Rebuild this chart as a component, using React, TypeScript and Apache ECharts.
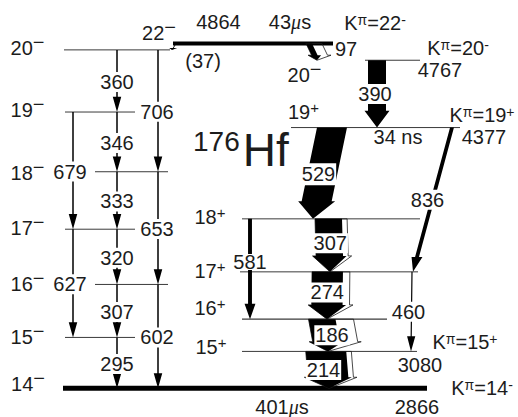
import React, { useEffect, useRef } from "react";
import * as echarts from "echarts";

// ---------------- DATA ----------------
// Levels of 176Hf: energy (keV), spin, parity
const levelEnergies = [2866, 3161, 3468, 3788, 4121, 4467, 4827, 4864, 4767, 4377, 3848, 3541, 3267, 3080];
const levelSpins = ["14", "15", "16", "17", "18", "19", "20", "22", "20", "19", "18", "17", "16", "15"];
const levelParities = ["−", "−", "−", "−", "−", "−", "−", "−", "−", "+", "+", "+", "+", "+"];

// Band heads (K^pi) and their levels
const bandHeadLevels = [7, 8, 9, 13, 0];
const bandHeadK = ["22", "20", "19", "15", "14"];
const bandHeadParity = ["-", "-", "+", "+", "-"];

// Levels whose energy is printed
const energyLabelLevels = [7, 8, 9, 13, 0];

// Isomers: half-lives
const isomerLevels = [7, 9, 0];
const isomerValues = ["43", "34", "401"];
const isomerUnits = ["μs", "ns", "μs"];

// Gamma transitions
const transitionLabels = ["360", "346", "333", "320", "307", "295", "706", "653", "602", "679", "627", "(37)", "97", "390", "529", "836", "307", "274", "186", "214", "581", "460"];
const transitionFrom = [6, 5, 4, 3, 2, 1, 6, 4, 2, 5, 3, 7, 7, 8, 9, 9, 10, 11, 12, 13, 10, 11];
const transitionTo = [5, 4, 3, 2, 1, 0, 4, 2, 0, 3, 1, 6, 8, 9, 10, 11, 11, 12, 13, 0, 12, 13];
// relative intensities (gamma, conversion electrons)
const gammaIntensity = [5, 5, 5, 5, 5, 5, 5, 5, 5, 5, 5, 3, 20, 60, 100, 13, 90, 103, 90, 135, 13, 4];
const conversionIntensity = [0, 0, 0, 0, 0, 0, 0, 0, 0, 0, 0, 0, 33, 0, 0, 0, 17, 23, 60, 17, 0, 0];

// ---------------- LAYOUT / STYLE ----------------
const FONT = "'Liberation Sans', Arial, Helvetica, sans-serif";
const INK = "#1c1c1c";
const PX_PER_INTENSITY = 0.3;
const DIGIT_W = 11.12; // 20px Liberation Sans digit advance

const levelX = [[63, 427], [65, 135], [95, 168], [65, 135], [95, 168], [65, 135], [64, 170], [173, 333], [365, 420], [291, 460], [242, 420], [240, 418], [242, 387], [242, 417]];
const levelLineWidth = [5, 1, 1, 1, 1, 1, 1, 4, 1, 1, 1, 1, 1.2, 1];
const spinLabelLayout = [[28, -4], [27.5, 0], [27.5, 0], [27.5, -1.5], [27.5, 1], [27.5, -2], [27.5, -2], [159, -10.5], [304.5, 15], [303.5, -15.5], [210, -2], [210, -1], [210, -11], [211, -4]];
const energyLabelLayout: Record<number, number[]> = { 7: [218.5, -21], 8: [440, 10], 9: [484, 9.5], 13: [420, 13.5], 0: [417, 19] };
const bandLabelLayout: Record<number, number[]> = { 7: [375, -20.5], 8: [458, -12], 9: [482, -13], 13: [465, -9], 0: [482, 0] };
const isomerLabelLayout: Record<number, number[]> = { 7: [290, -21], 9: [398, 9.5], 0: [282, 19] };
// [xTop, xBottom, labelDx, labelDy, labelBackground, labelBoxHeight]
const transitionLayout = [
  [117, 117, 0, 1, 1, 20], [117, 117, 0, 1, 1, 20], [117, 117, 0, 1, 1, 20], [117, 117, 0, 1, 1, 20], [117, 117, 0, 1, 1, 20], [117, 117, 0, 1, 1, 20],
  [158, 158, -1, 1, 1, 20], [158, 158, -1, 1, 1, 20], [158, 158, -1, 1, 1, 20],
  [73, 73, -3, 1, 1, 20], [73, 73, -3, 1, 1, 20],
  [176, 172, 29, 14, 0, 20], [309, 317, 33, -3, 0, 20],
  [377, 377, -2, 0, 1, 20], [332, 313, -4, 1, 1, 22], [452, 413, -5, 0, 1, 20],
  [328.5, 330, 1, -2, 1, 20], [327.5, 327, 0, -3, 1, 20], [322, 328, 7, 0, 1, 20], [326, 329, -4, 0, 1, 20],
  [250, 250, 0, -7, 1, 16], [412, 411, -3, 0, 1, 20],
];

const baseRich = {
  n: { fontSize: 20, lineHeight: 20, fontFamily: FONT, fill: INK },
  k: { fontSize: 14, lineHeight: 11, verticalAlign: "top", fontFamily: FONT, fill: INK },
  u: { fontSize: 20, lineHeight: 20, fontStyle: "italic", fontFamily: "'Liberation Serif', serif", fill: INK },
};

function txt(x: number, y: number, text: string, extra: any = {}) {
  return {
    type: "text",
    x,
    y,
    style: {
      text,
      fontSize: 20,
      lineHeight: 20,
      fontFamily: FONT,
      fill: INK,
      align: "center",
      verticalAlign: "middle",
      textAlign: "center",
      textVerticalAlign: "middle",
      rich: baseRich,
      ...extra,
    },
  };
}

// spin label: digits + raised parity sign
function spinLabel(cx: number, cy: number, spin: string, parity: string) {
  const isPlus = parity === "+";
  const supSize = isPlus ? 15 : 20;
  const supW = isPlus ? 8.8 : 11.7;
  const digitsW = spin.length * DIGIT_W;
  const x0 = cx - (digitsW + supW) / 2;
  return {
    type: "group",
    children: [
      txt(x0, cy, spin, { align: "left", textAlign: "left" }),
      txt(x0 + digitsW, cy - (isPlus ? 4.5 : 6), parity, { align: "left", textAlign: "left", fontSize: supSize }),
    ],
  };
}

// arrow polygon with separate left/right half widths for shaft and head
function arrowPts(x1: number, y1: number, x2: number, y2: number, wl: number, wr: number, hwl: number, hwr: number, hl: number) {
  const dx = x2 - x1;
  const dy = y2 - y1;
  const len = Math.hypot(dx, dy);
  const t = (len - hl) / len;
  const xb = x1 + dx * t;
  const yb = y1 + dy * t;
  return [
    [x1 - wl, y1],
    [x1 + wr, y1],
    [xb + wr, yb],
    [xb + hwr, yb],
    [x2, y2],
    [xb - hwl, yb],
    [xb - wl, yb],
  ];
}

const option: any = {
  animation: false,
  backgroundColor: "#ffffff",
  title: {
    text: "{a|176}{b|Hf}",
    left: 193,
    top: 127,
    padding: 0,
    textStyle: {
      fontWeight: "normal",
      rich: {
        a: { fontSize: 28, lineHeight: 22, verticalAlign: "top", fontFamily: FONT, fontWeight: "normal", color: INK, padding: [0, 3, 0, 0] },
        b: { fontSize: 46, lineHeight: 46, fontFamily: FONT, fontWeight: "normal", color: INK },
      },
    },
  },
  grid: { left: 0, right: 0, top: 0, bottom: 0 },
  xAxis: { type: "value", min: 0, max: 518, show: false, splitLine: { show: false } },
  yAxis: { type: "value", min: 2700, max: 5116, show: false, splitLine: { show: false } },
  series: [
    // level lines
    {
      type: "custom",
      z: 1,
      silent: true,
      data: levelEnergies.map((e, i) => [levelX[i][0], e]),
      renderItem: (params: any, api: any) => {
        const i = params.dataIndex;
        const e = levelEnergies[i];
        const p1 = api.coord([levelX[i][0], e]);
        const p2 = api.coord([levelX[i][1], e]);
        const lw = levelLineWidth[i];
        return {
          type: "line",
          shape: { x1: p1[0], y1: p1[1], x2: p2[0], y2: p2[1] },
          style: { stroke: lw > 1.5 ? "#000" : "#3a3a3a", lineWidth: lw },
        };
      },
    },
    // transition arrows
    {
      type: "custom",
      z: 2,
      silent: true,
      data: transitionFrom.map((f, i) => [transitionLayout[i][0], levelEnergies[f]]),
      renderItem: (params: any, api: any) => {
        const i = params.dataIndex;
        const L = transitionLayout[i];
        const p1 = api.coord([L[0], levelEnergies[transitionFrom[i]]]);
        const p2 = api.coord([L[1], levelEnergies[transitionTo[i]]]);
        const w = gammaIntensity[i] * PX_PER_INTENSITY;
        const ce = conversionIntensity[i] * PX_PER_INTENSITY;
        const len = Math.hypot(p2[0] - p1[0], p2[1] - p1[1]);
        const hl = Math.min(15 + 0.1 * w, 0.3 * len);
        const hw = Math.max(w + 7, 8);
        const children: any[] = [];
        if (ce > 0) {
          children.push({
            type: "polygon",
            shape: { points: arrowPts(p1[0], p1[1], p2[0], p2[1], w / 2, w / 2 + ce, hw / 2, hw / 2 + ce, hl) },
            style: { fill: "none", stroke: INK, lineWidth: 0.8 },
          });
        }
        children.push({
          type: "polygon",
          shape: { points: arrowPts(p1[0], p1[1], p2[0], p2[1], w / 2, w / 2, hw / 2, hw / 2, hl) },
          style: { fill: "#000" },
        });
        return { type: "group", children };
      },
    },
    // transition energy labels
    {
      type: "custom",
      z: 3,
      silent: true,
      data: transitionFrom.map((f, i) => [transitionLayout[i][0], (levelEnergies[f] + levelEnergies[transitionTo[i]]) / 2]),
      renderItem: (params: any, api: any) => {
        const i = params.dataIndex;
        const L = transitionLayout[i];
        const e = (levelEnergies[transitionFrom[i]] + levelEnergies[transitionTo[i]]) / 2;
        const p = api.coord([(L[0] + L[1]) / 2, e]);
        return txt(p[0] + L[2], p[1] + L[3], transitionLabels[i], L[4]
          ? { backgroundColor: "#ffffff", lineHeight: L[5], padding: [0, 1, 0, 1] }
          : { lineHeight: L[5] });
      },
    },
    // level labels (spin, energy, K, half-life)
    {
      type: "custom",
      z: 4,
      silent: true,
      data: levelEnergies.map((e, i) => [spinLabelLayout[i][0], e]),
      renderItem: (params: any, api: any) => {
        const i = params.dataIndex;
        const e = levelEnergies[i];
        const children: any[] = [];
        const sl = spinLabelLayout[i];
        const ps = api.coord([sl[0], e]);
        children.push(spinLabel(ps[0], ps[1] + sl[1], levelSpins[i], levelParities[i]));
        if (energyLabelLevels.indexOf(i) >= 0) {
          const el = energyLabelLayout[i];
          const pe = api.coord([el[0], e]);
          children.push(txt(pe[0], pe[1] + el[1], String(e)));
        }
        const b = bandHeadLevels.indexOf(i);
        if (b >= 0) {
          const bl = bandLabelLayout[i];
          const pb = api.coord([bl[0], e]);
          children.push(txt(pb[0], pb[1] + bl[1], `{n|K}{k|π}{n|=${bandHeadK[b]}}{k|${bandHeadParity[b]}}`));
        }
        const s = isomerLevels.indexOf(i);
        if (s >= 0) {
          const il = isomerLabelLayout[i];
          const pi = api.coord([il[0], e]);
          const unit = isomerUnits[s];
          const t = unit === "μs"
            ? `{n|${isomerValues[s]}}{u|μ}{n|s}`
            : `${isomerValues[s]} ${unit}`;
          children.push(txt(pi[0], pi[1] + il[1], t));
        }
        return { type: "group", children };
      },
    },
  ],
};

export default function App() {
  const ref = useRef<HTMLDivElement>(null);
  useEffect(() => {
    document.body.style.margin = "0";
    const chart = echarts.init(ref.current!, null, { renderer: "svg" });
    chart.setOption(option);
    return () => chart.dispose();
  }, []);
  return <div ref={ref} style={{ width: 518, height: 417 }} />;
}
